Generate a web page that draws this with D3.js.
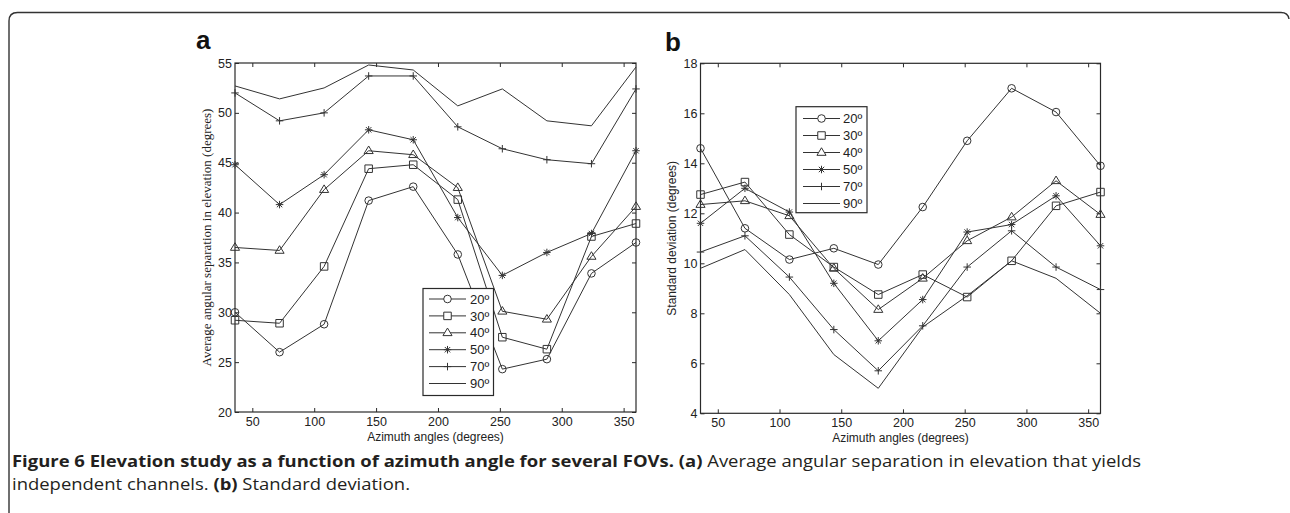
<!DOCTYPE html>
<html>
<head>
<meta charset="utf-8">
<script src="https://cdn.jsdelivr.net/npm/d3@7/dist/d3.min.js"></script>
<style>
  html, body { margin: 0; padding: 0; background: #fff; }
  svg { display: block; }
</style>
</head>
<body>
<svg id="fig" width="1290" height="513"></svg>
<script>
// Azimuth sample positions (degrees)
const azimuth = [36, 72, 108, 144, 180, 216, 252, 288, 324, 360];
const fovLabels = ["20º", "30º", "40º", "50º", "70º", "90º"];
const markerKinds = ["circle", "square", "triangle", "asterisk", "plus", "none"];
const xTicks = [50, 100, 150, 200, 250, 300, 350];

// (a) Average angular separation in elevation (degrees)
const sepFov20 = [30.0, 26.0, 28.8, 41.2, 42.6, 35.8, 24.3, 25.3, 33.9, 37.0];
const sepFov30 = [29.2, 28.9, 34.6, 44.4, 44.8, 41.3, 27.5, 26.3, 37.6, 38.9];
const sepFov40 = [36.5, 36.2, 42.3, 46.2, 45.8, 42.5, 30.1, 29.3, 35.6, 40.6];
const sepFov50 = [44.8, 40.8, 43.8, 48.3, 47.3, 39.5, 33.7, 36.0, 37.9, 46.2];
const sepFov70 = [52.0, 49.2, 50.0, 53.7, 53.7, 48.6, 46.4, 45.3, 44.9, 52.4];
const sepFov90 = [52.7, 51.4, 52.5, 54.8, 54.3, 50.7, 52.4, 49.2, 48.7, 54.6];
const sepTicks = [20, 25, 30, 35, 40, 45, 50, 55];

// (b) Standard deviation (degrees)
const sdFov20 = [14.6, 11.4, 10.15, 10.6, 9.95, 12.25, 14.9, 17.0, 16.05, 13.9];
const sdFov30 = [12.75, 13.25, 11.15, 9.85, 8.75, 9.55, 8.65, 10.1, 12.3, 12.85];
const sdFov40 = [12.35, 12.5, 11.9, 9.8, 8.15, 9.4, 10.9, 11.85, 13.3, 11.95];
const sdFov50 = [11.6, 13.0, 12.05, 9.2, 6.9, 8.55, 11.25, 11.55, 12.7, 10.7];
const sdFov70 = [10.45, 11.1, 9.45, 7.35, 5.7, 7.5, 9.85, 11.3, 9.85, 8.95];
const sdFov90 = [9.8, 10.55, 8.75, 6.35, 5.0, 7.45, 8.7, 10.1, 9.4, 8.0];
const sdTicks = [4, 6, 8, 10, 12, 14, 16, 18];

const svg = d3.select("#fig");
const ink = "#2a2a2a";
const tickFont = "'Liberation Sans Narrow', 'Liberation Sans', Arial, sans-serif";
const labelFont = "'Liberation Sans', Arial, sans-serif";

// Outer figure frame with rounded top corners
svg.append("path")
  .attr("d", "M9,513 V21 Q9,12.5 17.5,12.5 H1281 Q1288,12.5 1289,19")
  .attr("fill", "none").attr("stroke", "#333").attr("stroke-width", 1.4);

function markerPath(kind, s) {
  const h = s / 2;
  switch (kind) {
    case "square": return `M${-h},${-h}H${h}V${h}H${-h}Z`;
    case "triangle": return `M0,${-h - 1}L${h + 0.8},${h * 0.75}L${-h - 0.8},${h * 0.75}Z`;
    case "plus": return `M${-h},0H${h}M0,${-h}V${h}`;
    case "asterisk": {
      const d = h * 0.72;
      return `M${-h},0H${h}M0,${-h}V${h}M${-d},${-d}L${d},${d}M${-d},${d}L${d},${-d}`;
    }
    default: return "";
  }
}

function drawPanel(opts) {
  const { x0, x1, y0, y1, yDomain, yTicks, series, legend, letter, letterPos,
          yLabel, yLabelFont, yLabelSize, yLabelX, xLabelY } = opts;
  const g = svg.append("g");
  const x = d3.scaleLinear().domain([36, 360]).range([x0, x1]);
  const y = d3.scaleLinear().domain(yDomain).range([y1, y0]);

  // Inward tick marks on all four sides
  const left = d3.axisLeft(y).tickValues(yTicks).tickSizeInner(-4).tickSizeOuter(0).tickPadding(3);
  const right = d3.axisRight(y).tickValues(yTicks).tickSizeInner(-4).tickSizeOuter(0).tickFormat("");
  const bottom = d3.axisBottom(x).tickValues(xTicks).tickSizeInner(-4).tickSizeOuter(0).tickPadding(5);
  const top = d3.axisTop(x).tickValues(xTicks).tickSizeInner(-4).tickSizeOuter(0).tickFormat("");

  const styleAxis = sel => {
    sel.select(".domain").remove();
    sel.selectAll(".tick line").attr("stroke", ink).attr("stroke-width", 1);
    sel.selectAll(".tick text").attr("fill", "#222")
      .style("font-family", tickFont).style("font-size", "12.5px");
  };
  g.append("g").attr("transform", `translate(${x0},0)`).call(left).call(styleAxis);
  g.append("g").attr("transform", `translate(${x1},0)`).call(right).call(styleAxis);
  g.append("g").attr("transform", `translate(0,${y1})`).call(bottom).call(styleAxis);
  g.append("g").attr("transform", `translate(0,${y0})`).call(top).call(styleAxis);

  // Plot box
  g.append("rect").attr("x", x0).attr("y", y0).attr("width", x1 - x0).attr("height", y1 - y0)
    .attr("fill", "none").attr("stroke", ink).attr("stroke-width", 1.2);

  const line = d3.line().x((d, i) => x(azimuth[i])).y(d => y(d));
  series.forEach((vals, k) => {
    g.append("path").attr("d", line(vals))
      .attr("fill", "none").attr("stroke", "#333").attr("stroke-width", 1);
    const kind = markerKinds[k];
    if (kind === "none") return;
    vals.forEach((v, i) => {
      const cx = x(azimuth[i]), cy = y(v);
      if (kind === "circle") {
        g.append("circle").attr("cx", cx).attr("cy", cy).attr("r", 3.8)
          .attr("fill", "none").attr("stroke", "#333").attr("stroke-width", 1);
      } else {
        g.append("path").attr("transform", `translate(${cx},${cy})`)
          .attr("d", markerPath(kind, 7.5))
          .attr("fill", "none").attr("stroke", "#333").attr("stroke-width", 1);
      }
    });
  });

  // Legend box
  const lg = g.append("g");
  lg.append("rect").attr("x", legend.x).attr("y", legend.y).attr("width", legend.w).attr("height", legend.h)
    .attr("fill", "#fff").attr("stroke", ink).attr("stroke-width", 1.2);
  fovLabels.forEach((lab, k) => {
    const ly = legend.firstY + k * legend.step;
    lg.append("line").attr("x1", legend.lx0).attr("x2", legend.lx1).attr("y1", ly).attr("y2", ly)
      .attr("stroke", "#333").attr("stroke-width", 1);
    const mx = (legend.lx0 + legend.lx1) / 2;
    const kind = markerKinds[k];
    if (kind === "circle") {
      lg.append("circle").attr("cx", mx).attr("cy", ly).attr("r", 3.8)
        .attr("fill", "#fff").attr("stroke", "#333").attr("stroke-width", 1);
    } else if (kind !== "none") {
      lg.append("path").attr("transform", `translate(${mx},${ly})`)
        .attr("d", markerPath(kind, 7.5))
        .attr("fill", kind === "plus" || kind === "asterisk" ? "none" : "#fff")
        .attr("stroke", "#333").attr("stroke-width", 1);
    }
    lg.append("text").attr("x", legend.tx).attr("y", ly).attr("dy", "0.36em")
      .style("font-family", labelFont).style("font-size", "13px").attr("fill", "#222")
      .text(lab);
  });

  // Axis titles
  g.append("text").attr("x", (x0 + x1) / 2).attr("y", xLabelY).attr("text-anchor", "middle")
    .style("font-family", labelFont).style("font-size", "12px").attr("fill", "#222")
    .text("Azimuth angles (degrees)");
  g.append("text")
    .attr("transform", `translate(${yLabelX},${(y0 + y1) / 2}) rotate(-90)`)
    .attr("text-anchor", "middle")
    .style("font-family", yLabelFont).style("font-size", yLabelSize).attr("fill", "#222")
    .text(yLabel);

  // Panel letter
  svg.append("text").attr("x", letterPos[0]).attr("y", letterPos[1])
    .style("font-family", labelFont).style("font-weight", "bold").style("font-size", "26px")
    .attr("fill", "#111").text(letter);
}

drawPanel({
  x0: 235, x1: 636, y0: 63, y1: 412,
  yDomain: [20, 55], yTicks: sepTicks,
  series: [sepFov20, sepFov30, sepFov40, sepFov50, sepFov70, sepFov90],
  legend: { x: 423, y: 288.5, w: 70.5, h: 107, firstY: 299, step: 16.9, lx0: 429, lx1: 466, tx: 470 },
  letter: "a", letterPos: [196, 49],
  yLabel: "Average angular separation in elevation (degrees)",
  yLabelFont: "'Liberation Serif', 'Times New Roman', serif", yLabelSize: "13px",
  yLabelX: 211, xLabelY: 441
});

drawPanel({
  x0: 700.5, x1: 1100.5, y0: 63.3, y1: 413.3,
  yDomain: [4, 18], yTicks: sdTicks,
  series: [sdFov20, sdFov30, sdFov40, sdFov50, sdFov70, sdFov90],
  legend: { x: 796, y: 106.7, w: 71, h: 106, firstY: 118.5, step: 17, lx0: 803, lx1: 840, tx: 843 },
  letter: "b", letterPos: [665, 51],
  yLabel: "Standard deviation (degrees)",
  yLabelFont: labelFont, yLabelSize: "12px",
  yLabelX: 676, xLabelY: 442
});

// Figure caption: set at full height, then condensed horizontally to the figure width
const capFont = "'Open Sans', 'Noto Sans', sans-serif";
const capSize = 15.5;
const capG = svg.append("g");
const cap1 = capG.append("text").attr("x", 0).attr("y", 467)
  .style("font-family", capFont).style("font-size", capSize + "px").attr("fill", "#231f20");
cap1.append("tspan").style("font-weight", "bold").text("Figure 6 Elevation study as a function of azimuth angle for several FOVs.");
cap1.append("tspan").text(" ");
cap1.append("tspan").style("font-weight", "bold").text("(a)");
cap1.append("tspan").text(" Average angular separation in elevation that yields");

const cap2 = capG.append("text").attr("x", 0).attr("y", 490)
  .style("font-family", capFont).style("font-size", capSize + "px").attr("fill", "#231f20");
cap2.append("tspan").text("independent channels. ");
cap2.append("tspan").style("font-weight", "bold").text("(b)");
cap2.append("tspan").text(" Standard deviation.");

const w1 = cap1.node().getComputedTextLength();
const sx = (1142 - 12) / w1;
capG.attr("transform", `translate(12,0) scale(${sx},1)`);
</script>
</body>
</html>
